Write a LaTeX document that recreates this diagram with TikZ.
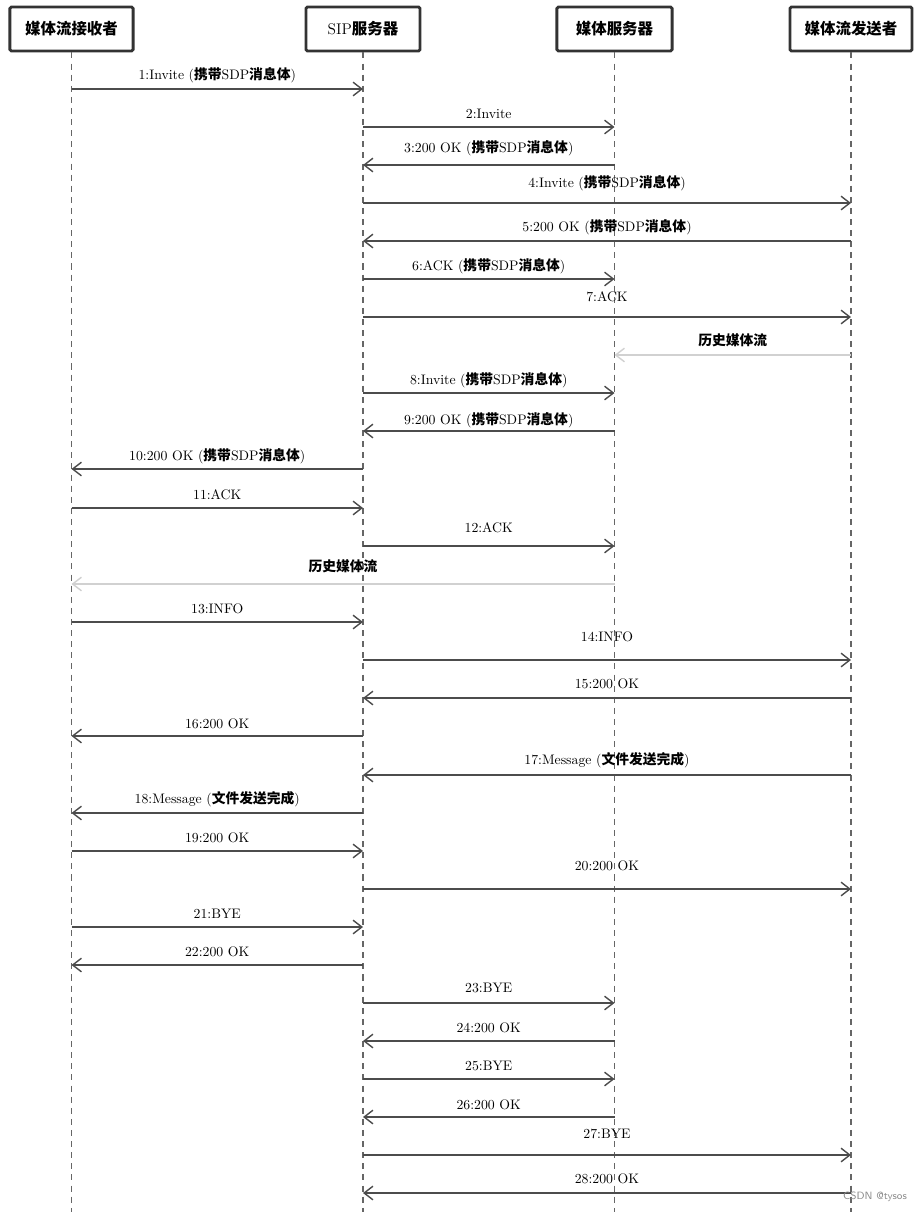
\documentclass[tikz,border=0pt]{standalone}
\usepackage{fontspec}
\usepackage{tikz}
\usetikzlibrary{arrows.meta}
\newfontfamily\zhfont{Noto Sans CJK SC}
\newcommand{\zh}[1]{{\zhfont\bfseries #1}}

\tikzset{
  head/.style={draw=black!80, line width=2pt, rounded corners=1pt, fill=white,
    minimum height=1.1cm, inner sep=0pt, font=\fontsize{11}{12}\selectfont},
  life/.style={draw=black!60, line width=0.8pt, dash pattern=on 4.3pt off 3.6pt},
  msg/.style={draw=black!70, line width=1pt,
    -{Straight Barb[length=2.2mm,width=3.4mm]}},
  hist/.style={msg, draw=black!18},
  lab/.style={midway, yshift=#1, inner sep=0pt, font=\fontsize{9.8}{11}\selectfont},
  lab/.default=9.2pt
}

\begin{document}
\begin{tikzpicture}[x=0.025cm,y=-0.025cm]
\useasboundingbox (0,0) rectangle (924,1212);
\coordinate (bot) at (0,1212);

% =========================================================
% Teilnehmer (Kopfzeile)
% =========================================================
\node[head, minimum width=3.08cm] (recv)  at (71.5,29) {\zh{媒体流接收者}};
\node[head, minimum width=2.85cm] (sip)   at (363,29)  {SIP\zh{服务器}};
\node[head, minimum width=2.88cm] (media) at (614.5,29) {\zh{媒体服务器}};
\node[head, minimum width=3.05cm] (send)  at (851,29)  {\zh{媒体流发送者}};

% Lebenslinien
\draw[life] (recv.south)  -- (recv |- bot);
\draw[life] (sip.south)   -- (sip |- bot);
\draw[life] (media.south) -- (media |- bot);
\draw[life] (send.south)  -- (send |- bot);

% =========================================================
% Aufbau der Sitzung
% =========================================================
\draw[msg] (recv |- 0,89) -- node[lab=10pt] (l1) {1:Invite (\zh{携带}SDP\zh{消息体})} (sip |- 0,89);
\draw[msg] (sip |- 0,127) -- node[lab] (l2) {2:Invite} (media |- 0,127);
\draw[msg] (media |- 0,165) -- node[lab=12pt] (l3) {3:200 OK (\zh{携带}SDP\zh{消息体})} (sip |- 0,165);
\draw[msg] (sip |- 0,203) -- node[lab=14.2pt] (l4) {4:Invite (\zh{携带}SDP\zh{消息体})} (send |- 0,203);
\draw[msg] (send |- 0,241) -- node[lab=10pt] (l5) {5:200 OK (\zh{携带}SDP\zh{消息体})} (sip |- 0,241);
\draw[msg] (sip |- 0,279) -- node[lab] (l6) {6:ACK (\zh{携带}SDP\zh{消息体})} (media |- 0,279);
\draw[msg] (sip |- 0,317) -- node[lab=14.2pt] (l7) {7:ACK} (send |- 0,317);
% historischer Medienstrom
\draw[hist] (send |- 0,355) -- node[lab=10.7pt] (h1) {\zh{历史媒体流}} (media |- 0,355);
\draw[msg] (sip |- 0,393) -- node[lab] (l8) {8:Invite (\zh{携带}SDP\zh{消息体})} (media |- 0,393);
\draw[msg] (media |- 0,431) -- node[lab=7.8pt] (l9) {9:200 OK (\zh{携带}SDP\zh{消息体})} (sip |- 0,431);
\draw[msg] (sip |- 0,469) -- node[lab] (l10) {10:200 OK (\zh{携带}SDP\zh{消息体})} (recv |- 0,469);
\draw[msg] (recv |- 0,508) -- node[lab] (l11) {11:ACK} (sip |- 0,508);
\draw[msg] (sip |- 0,546) -- node[lab=12.8pt] (l12) {12:ACK} (media |- 0,546);
\draw[hist] (media |- 0,584) -- node[lab=12.8pt] (h2) {\zh{历史媒体流}} (recv |- 0,584);

% =========================================================
% INFO / Message
% =========================================================
\draw[msg] (recv |- 0,622) -- node[lab] (l13) {13:INFO} (sip |- 0,622);
\draw[msg] (sip |- 0,660) -- node[lab=16.4pt] (l14) {14:INFO} (send |- 0,660);
\draw[msg] (send |- 0,698) -- node[lab=10pt] (l15) {15:200 OK} (sip |- 0,698);
\draw[msg] (sip |- 0,736) -- node[lab=8.5pt] (l16) {16:200 OK} (recv |- 0,736);
\draw[msg] (send |- 0,775) -- node[lab=10.7pt] (l17) {17:Message (\zh{文件发送完成})} (sip |- 0,775);
\draw[msg] (sip |- 0,813) -- node[lab=10pt] (l18) {18:Message (\zh{文件发送完成})} (recv |- 0,813);
\draw[msg] (recv |- 0,851) -- node[lab] (l19) {19:200 OK} (sip |- 0,851);
\draw[msg] (sip |- 0,889) -- node[lab=16.4pt] (l20) {20:200 OK} (send |- 0,889);

% =========================================================
% Abbau
% =========================================================
\draw[msg] (recv |- 0,927) -- node[lab] (l21) {21:BYE} (sip |- 0,927);
\draw[msg] (sip |- 0,965) -- node[lab] (l22) {22:200 OK} (recv |- 0,965);
\draw[msg] (sip |- 0,1003) -- node[lab=10.7pt] (l23) {23:BYE} (media |- 0,1003);
\draw[msg] (media |- 0,1041) -- node[lab] (l24) {24:200 OK} (sip |- 0,1041);
\draw[msg] (sip |- 0,1079) -- node[lab] (l25) {25:BYE} (media |- 0,1079);
\draw[msg] (media |- 0,1117) -- node[lab=8.5pt] (l26) {26:200 OK} (sip |- 0,1117);
\draw[msg] (sip |- 0,1155) -- node[lab=15pt] (l27) {27:BYE} (send |- 0,1155);
\draw[msg] (send |- 0,1193) -- node[lab=10pt] (l28) {28:200 OK} (sip |- 0,1193);

\node[text=black!45, font=\sffamily\fontsize{7.5}{8}\selectfont] (mark) at (875,1197) {CSDN @tysos};
\end{tikzpicture}
\end{document}
